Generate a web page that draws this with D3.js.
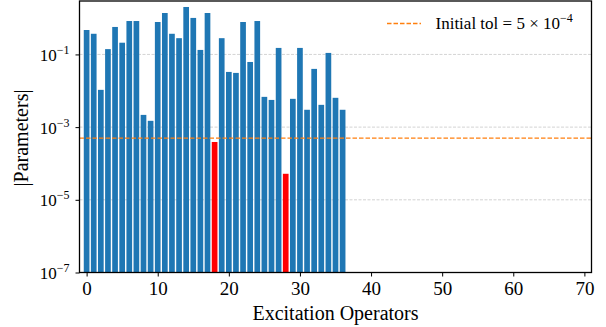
<!DOCTYPE html>
<html>
<head>
<meta charset="utf-8">
<script src="https://cdn.jsdelivr.net/npm/d3@7"></script>
<style>
  body { margin: 0; background: #fff; }
  text { font-family: "Liberation Serif", "Times New Roman", serif; fill: #000; }
</style>
</head>
<body>
<div id="chart"></div>
<script>
// |parameter| per excitation operator
var operators = d3.range(0, 37);
var params = [0.47, 0.37, 0.0106, 0.14, 0.57, 0.21, 0.83, 0.83, 0.00217, 0.00149,
              0.78, 1.38, 0.37, 0.28, 2.02, 1.01, 0.133, 1.38, 3.9e-4, 0.28,
              0.033, 0.031, 0.78, 0.062, 0.83, 0.0068, 0.0056, 0.151, 5.2e-5, 0.006,
              0.151, 0.003, 0.040, 0.0041, 0.11, 0.0064, 0.003];
var pruned = [18, 28];
var tol = 5e-4;
var xTicks = [0, 10, 20, 30, 40, 50, 60, 70];
var yTicks = [-7, -5, -3, -1];

(function() {
  var width = 606, height = 327;
  var pL = 79.5, pR = 591.5, pT = 1, pB = 272.5;

  var svg = d3.select("#chart").append("svg")
    .attr("width", width)
    .attr("height", height);

  var x = d3.scaleLinear().domain([-1, 71]).range([pL, pR]);
  var y = d3.scaleLog().domain([1e-7, Math.pow(10, 0.47)]).range([pB, pT]);

  // grid lines
  svg.selectAll(".grid").data(yTicks.slice(1)).enter().append("line")
    .attr("x1", pL).attr("x2", pR)
    .attr("y1", function(d) { return y(Math.pow(10, d)); })
    .attr("y2", function(d) { return y(Math.pow(10, d)); })
    .style("stroke", "#c8c8c8")
    .style("stroke-width", 0.8)
    .style("stroke-dasharray", "3,1.5");

  // bars
  var bw = x(0.8) - x(0);
  svg.selectAll(".bar").data(params).enter().append("rect")
    .attr("x", function(d, i) { return x(operators[i]) - bw / 2; })
    .attr("y", function(d) { return y(d); })
    .attr("width", bw)
    .attr("height", function(d) { return pB - y(d); })
    .style("fill", function(d, i) { return pruned.indexOf(operators[i]) >= 0 ? "#ff0000" : "#1f77b4"; });

  // tolerance line
  svg.append("line")
    .attr("x1", pL).attr("x2", pR)
    .attr("y1", y(tol)).attr("y2", y(tol))
    .style("stroke", "#ff7f0e")
    .style("stroke-width", 1.3)
    .style("stroke-dasharray", "4.5,2");

  // frame
  svg.append("rect")
    .attr("x", pL).attr("y", pT)
    .attr("width", pR - pL).attr("height", pB - pT)
    .style("fill", "none")
    .style("stroke", "#000")
    .style("stroke-width", 1.3);

  // x axis
  var xAxis = svg.append("g").attr("transform", "translate(0," + pB + ")")
    .call(d3.axisBottom(x).tickValues(xTicks).tickSize(4).tickPadding(5).tickFormat(d3.format("d")));
  xAxis.select(".domain").remove();
  xAxis.selectAll("line").style("stroke", "#000").style("stroke-width", 1);
  xAxis.selectAll("text").style("font-family", "Liberation Serif").style("font-size", "19px");

  // y axis
  var yAxis = svg.append("g").attr("transform", "translate(" + pL + ",0)")
    .call(d3.axisLeft(y).tickValues(yTicks.map(function(d) { return Math.pow(10, d); })).tickSize(4).tickFormat(""));
  yAxis.select(".domain").remove();
  yAxis.selectAll("line").style("stroke", "#000").style("stroke-width", 1);

  var yl = svg.selectAll(".ylab").data(yTicks).enter().append("text")
    .attr("x", pL - 10)
    .attr("y", function(d) { return y(Math.pow(10, d)) + 6.5; })
    .attr("text-anchor", "end")
    .style("font-size", "17px");
  yl.append("tspan").text("10");
  yl.append("tspan").attr("dy", -7).style("font-size", "12px").text(function(d) { return "\u2212" + Math.abs(d); });

  // axis labels
  svg.append("text")
    .attr("x", (pL + pR) / 2)
    .attr("y", 320)
    .attr("text-anchor", "middle")
    .style("font-size", "20px")
    .text("Excitation Operators");

  svg.append("text")
    .attr("transform", "translate(28,138) rotate(-90)")
    .attr("text-anchor", "middle")
    .style("font-size", "20px")
    .text("|Parameters|");

  // legend
  svg.append("line")
    .attr("x1", 387).attr("x2", 421)
    .attr("y1", 23.5).attr("y2", 23.5)
    .style("stroke", "#ff7f0e")
    .style("stroke-width", 1.3)
    .style("stroke-dasharray", "4.5,2");
  var lg = svg.append("text")
    .attr("x", 435.5).attr("y", 29)
    .style("font-size", "17px");
  lg.append("tspan").text("Initial tol = 5 \u00d7 10");
  lg.append("tspan").attr("dy", -7).style("font-size", "12px").text("\u22124");
})();
</script>
</body>
</html>
